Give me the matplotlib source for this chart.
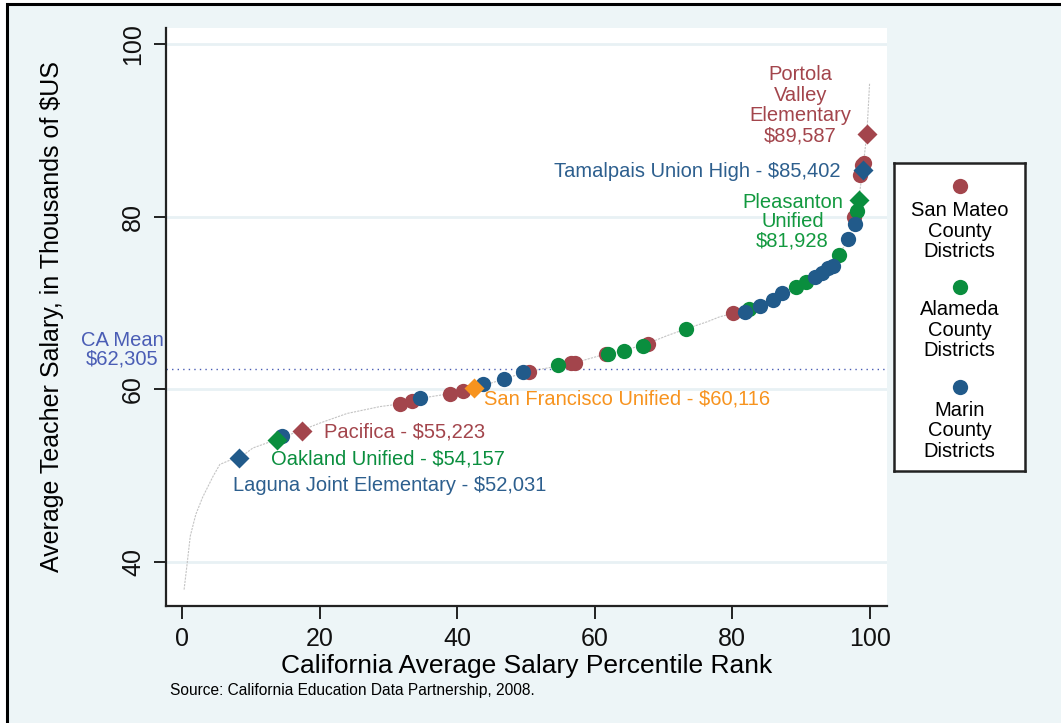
import matplotlib
matplotlib.use("Agg")
import matplotlib.pyplot as plt
from matplotlib.patches import Rectangle

plt.rcParams['font.family'] = ['Liberation Sans', 'DejaVu Sans']

# ---------------- data ----------------
# statewide distribution curve (percentile rank, salary in $k)
curve_pct = [0.3, 0.7, 1.2, 2.0, 3.0, 4.5, 5.5, 7.0, 8.3, 10.3, 13.8, 17.5, 20.1, 24.0,
             28.8, 31.7, 35.0, 39.0, 42.4, 46.9, 50.0, 54.7, 57.2, 61.7, 64.3, 67.7,
             70.5, 73.3, 76.3, 78.2, 80.2, 84.0, 86.5, 89.3, 92.0, 94.5, 95.5, 96.9,
             97.9, 98.4, 99.0, 99.6, 99.8, 100.0]
curve_sal = [36.8, 39.5, 43.0, 45.5, 47.5, 49.9, 51.3, 51.8, 52.0, 53.2, 54.2, 55.3, 56.1, 57.2,
             58.0, 58.3, 59.0, 59.5, 60.1, 61.2, 62.0, 62.7, 63.1, 64.1, 64.5, 65.3,
             66.2, 67.0, 67.8, 68.4, 68.8, 69.6, 70.8, 71.9, 73.0, 74.2, 75.5, 77.4,
             79.5, 81.9, 85.4, 89.6, 92.5, 95.5]

sanmateo_pct = [31.7, 33.5, 39.0, 40.8, 50.4, 56.5, 57.2, 61.6, 67.7, 80.2, 97.7, 98.6, 98.9, 99.2]
sanmateo_sal = [58.3, 58.7, 59.5, 59.8, 62.0, 63.0, 63.1, 64.1, 65.3, 68.8, 80.0, 84.8, 86.0, 86.2]

alameda_pct = [54.7, 61.9, 64.3, 67.0, 73.3, 82.5, 89.3, 90.8, 95.5, 98.1]
alameda_sal = [62.8, 64.1, 64.4, 65.0, 67.0, 69.3, 71.9, 72.4, 75.6, 80.6]

marin_pct = [14.6, 34.6, 43.8, 46.9, 49.6, 81.9, 84.0, 85.9, 87.3, 92.0, 93.1, 94.0, 94.7, 96.9, 97.9]
marin_sal = [54.6, 59.0, 60.6, 61.2, 62.0, 69.0, 69.6, 70.4, 71.1, 73.0, 73.5, 74.0, 74.3, 77.4, 79.2]

# highlighted districts
hl_names = ["Portola\nValley\nElementary\n$89,587", "Tamalpais Union High - $85,402",
            "Pleasanton\nUnified\n$81,928", "San Francisco Unified - $60,116",
            "Pacifica - $55,223", "Oakland Unified - $54,157",
            "Laguna Joint Elementary - $52,031"]
hl_pct = [99.6, 99.0, 98.4, 42.4, 17.5, 13.8, 8.3]
hl_sal = [89.587, 85.402, 81.928, 60.116, 55.223, 54.157, 52.031]

ca_mean = 62.305

xticks = [0, 20, 40, 60, 80, 100]
yticks = [40, 60, 80, 100]
legend_labels = ["San Mateo\nCounty\nDistricts", "Alameda\nCounty\nDistricts", "Marin\nCounty\nDistricts"]

# ---------------- styles ----------------
RED = '#A3454C'
GREEN = '#0A8E3E'
BLUE = '#215A8A'
ORANGE = '#F7931E'
MEANC = '#4A5DB5'
BG = '#EDF5F7'
W, H = 1061, 723

fig = plt.figure(figsize=(W / 100, H / 100), dpi=100, facecolor='white')
fig.patches.append(Rectangle((7 / W, -0.1), 1.2, 1 - 4 / H + 0.1, transform=fig.transFigure,
                             facecolor=BG, edgecolor='black', linewidth=2.2, zorder=-10))

ax = fig.add_axes([166 / W, 1 - 606 / H, (887 - 166) / W, (606 - 28) / H])
ax.set_facecolor('white')
ax.set_xlim(-2.33, 102.53)
ax.set_ylim(34.9, 101.85)

for yt in yticks:
    ax.axhline(yt, color='#E8F1F4', lw=2.0, zorder=0)

ax.plot(curve_pct, curve_sal, color='#c4c4c4', lw=0.8, linestyle=(0, (2, 1)), zorder=1)
ax.axhline(ca_mean, color=MEANC, lw=1.0, linestyle=(0, (1, 3)), zorder=1)

ms = 11
ax.plot(sanmateo_pct, sanmateo_sal, 'o', color=RED, ms=ms, mec='none', zorder=3)
ax.plot(alameda_pct, alameda_sal, 'o', color=GREEN, ms=ms, mec='none', zorder=3)
ax.plot(marin_pct, marin_sal, 'o', color=BLUE, ms=ms, mec='none', zorder=3)

hl_colors = [RED, BLUE, GREEN, ORANGE, RED, GREEN, BLUE]
for p, s, c in zip(hl_pct, hl_sal, hl_colors):
    ax.plot([p], [s], 'D', color=c, ms=10, mec='none', zorder=4)

fs_ann = 14.5
ax.text(89.9, 92.9, hl_names[0], color=RED, fontsize=fs_ann, ha='center', va='center', linespacing=1.08)
ax.text(95.7, 85.2, hl_names[1], color='#2D5F8E', fontsize=fs_ann, ha='right', va='center')
ax.text(88.8, 79.4, hl_names[2], color='#12993F', fontsize=fs_ann, ha='center', va='center', linespacing=1.02)
ax.text(43.9, 58.9, hl_names[3], color=ORANGE, fontsize=fs_ann, ha='left', va='center')
ax.text(20.6, 55.0, hl_names[4], color=RED, fontsize=fs_ann, ha='left', va='center')
ax.text(12.9, 51.9, hl_names[5], color=GREEN, fontsize=fs_ann, ha='left', va='center')
ax.text(7.4, 48.8, hl_names[6], color='#2D5F8E', fontsize=fs_ann, ha='left', va='center')
ax.text(-8.7, 64.6, "CA Mean\n$62,305", color=MEANC, fontsize=fs_ann, ha='center', va='center',
        linespacing=0.95, clip_on=False)

for side in ['top', 'right']:
    ax.spines[side].set_visible(False)
for side in ['left', 'bottom']:
    ax.spines[side].set_linewidth(1.6)
    ax.spines[side].set_color('#222222')

ax.set_xticks(xticks)
ax.set_yticks(yticks)
ax.set_yticklabels([str(v) for v in yticks], rotation=90, va='center')
ax.tick_params(axis='both', direction='out', length=9, width=1.3, labelsize=18, pad=6, colors='#111111')
ax.set_xlabel("California Average Salary Percentile Rank", fontsize=19, labelpad=2)
ax.set_ylabel("Average Teacher Salary, in Thousands of $US", fontsize=18)
ax.yaxis.set_label_coords((64 - 166) / 721, 0.5)

fig.text(170 / W, 1 - 690 / H, "Source: California Education Data Partnership, 2008.",
         fontsize=11.2, ha='left', va='center')

# legend box
lax = fig.add_axes([894 / W, 1 - 471 / H, 131 / W, 308 / H])
lax.set_facecolor('white')
lax.set_xlim(0, 1)
lax.set_ylim(0, 1)
lax.set_xticks([])
lax.set_yticks([])
for s in lax.spines.values():
    s.set_linewidth(1.8)
    s.set_color('#222222')
leg_colors = [RED, GREEN, BLUE]
dot_y = [1 - (186 - 163) / 308, 1 - (287 - 163) / 308, 1 - (387 - 163) / 308]
txt_y = [1 - (231 - 163) / 308, 1 - (330 - 163) / 308, 1 - (431 - 163) / 308]
for c, dy, ty, lab in zip(leg_colors, dot_y, txt_y, legend_labels):
    lax.plot([0.5], [dy], 'o', color=c, ms=11, mec='none')
    lax.text(0.5, ty, lab, ha='center', va='center', fontsize=14.5, linespacing=1.1)

fig.savefig("out.png", dpi=100, facecolor=fig.get_facecolor())
